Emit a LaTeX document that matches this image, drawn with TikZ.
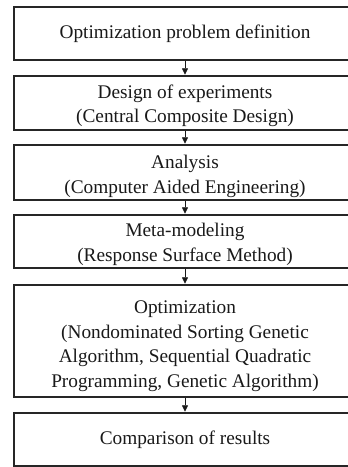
\documentclass[tikz,border=0pt]{standalone}
\usepackage{fontspec}
\setmainfont{Liberation Serif}
\usetikzlibrary{arrows.meta}
\tikzset{
  stepbox/.style={draw=black!85, line width=1.3pt, minimum width=342pt,
    inner sep=0pt},
  steptext/.style={inner sep=0pt, align=center, text=black!90,
    font=\fontsize{19.3pt}{24.5pt}\selectfont},
  flow/.style={draw=black!90, line width=0.8pt,
    -{Triangle[length=6.5pt,width=6pt]}, shorten >=0.6pt}
}
\begin{document}
\begin{tikzpicture}[x=1pt,y=-1pt]
\useasboundingbox (0,0) rectangle (348,467);
% frames of the six steps
\node[stepbox, minimum height=53pt]  (def)  at (185,33.5)  {};
\node[stepbox, minimum height=54pt]  (doe)  at (185,103)   {};
\node[stepbox, minimum height=55pt]  (cae)  at (185,172.5) {};
\node[stepbox, minimum height=53pt]  (rsm)  at (185,241.5) {};
\node[stepbox, minimum height=112pt] (opt)  at (185,341)   {};
\node[stepbox, minimum height=53pt]  (res)  at (185,439.5) {};
% step labels, set slightly low in their frames
\node[steptext] (defT) at (185,34)  {Optimization problem definition};
\node[steptext] (doeT) at (185,106) {Design of experiments\\(Central Composite Design)};
\node[steptext] (caeT) at (185,176.5) {Analysis\\(Computer Aided Engineering)};
\node[steptext] (rsmT) at (185,244.5) {Meta-modeling\\(Response Surface Method)};
\node[steptext] (optT) at (185,346) {Optimization\\(Nondominated Sorting Genetic\\Algorithm, Sequential Quadratic\\Programming, Genetic Algorithm)};
\node[steptext] (resT) at (185,440) {Comparison of results};
% connectors
\draw[flow] (def) -- (doe);
\draw[flow] (doe) -- (cae);
\draw[flow] (cae) -- (rsm);
\draw[flow] (rsm) -- (opt);
\draw[flow] (opt) -- (res);
\end{tikzpicture}
\end{document}
